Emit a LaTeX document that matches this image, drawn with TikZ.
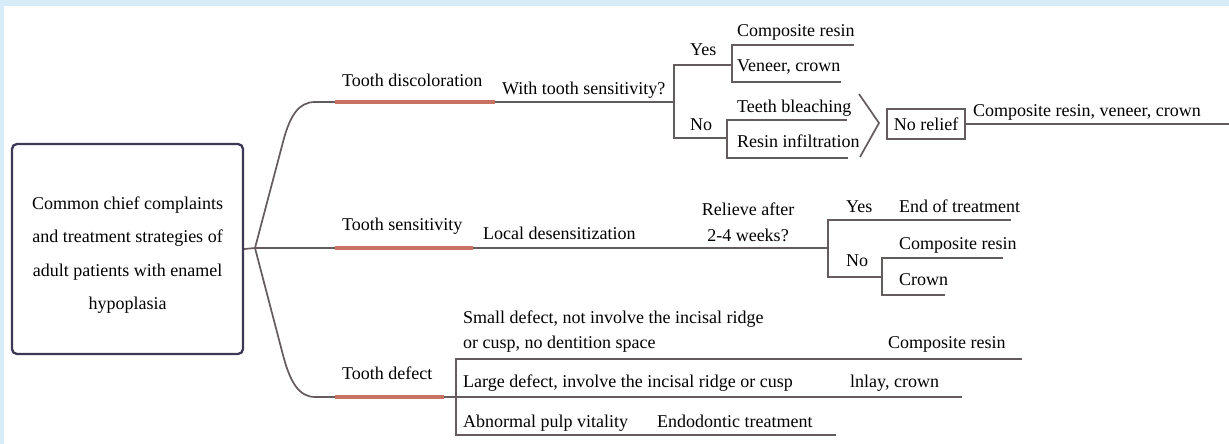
\documentclass[tikz,border=0pt]{standalone}
\usepackage{fontspec}
\setmainfont{Liberation Serif}
\definecolor{bgblue}{RGB}{214,236,249}
\definecolor{linegray}{RGB}{100,92,92}
\definecolor{barred}{RGB}{200,114,100}
\definecolor{boxnavy}{RGB}{60,56,85}
\tikzset{
  branch/.style={draw=linegray, line width=1.7pt},
  redbar/.style={draw=barred, line width=4.5pt},
  lbl/.style={anchor=base west, inner sep=0pt, font=\fontsize{18}{20}\selectfont},
}

\begin{document}
\begin{tikzpicture}[x=1pt, y=-1pt]
\useasboundingbox (0,0) rectangle (1229,444);
\fill[bgblue] (0,0) rectangle (1229,444); \fill[white] (4,6) rectangle (1229,444);
% root
\node[draw=boxnavy, line width=2.3pt, rounded corners=5pt, minimum width=231pt, minimum height=210pt] (root) at (127.5,249) {};
\node[align=center, inner sep=0pt, font=\fontsize{18}{33.3}\selectfont] (roottxt) at (127.5,255) {Common chief complaints\\and treatment strategies of\\adult patients with enamel\\hypoplasia};
\coordinate (J) at (255,248);
\coordinate (d1) at (335,102); \coordinate (d2) at (495,102); \coordinate (d3) at (674,102);
\coordinate (s1) at (335,248); \coordinate (s2) at (473,248); \coordinate (s3) at (828,248);
\coordinate (f1) at (335,397); \coordinate (f2) at (444,397); \coordinate (f3) at (456,397);
\draw[branch] (root.east) -- (J) -- (s1);
\draw[branch] (J) -- (283,142) .. controls (290,115) and (299,102) .. (315,102) -- (d1);
\draw[branch] (J) -- (283,355) .. controls (290,382) and (299,397) .. (315,397) -- (f1);
% tooth discoloration
\coordinate (dy1) at (732,65); \coordinate (dn1) at (727,138);
\coordinate (dyA) at (854,45); \coordinate (dyB) at (841,82); \coordinate (dnA) at (847,120); \coordinate (dnB) at (848,158);
\draw[branch] (d2) -- (d3); \draw[branch] (dy1) -| (d3) |- (dn1);
\draw[branch] (dyA) -| (dy1) |- (dyB); \draw[branch] (dnA) -| (dn1) |- (dnB);
\draw[branch] (859,94) -- (879,123) -- (860,157);
\node[draw=linegray, line width=1.5pt, minimum width=78pt, minimum height=30pt, inner sep=0pt, font=\fontsize{18}{20}\selectfont] (norelief) at (926,124) {No relief};
\coordinate (nrEnd) at (1229,124); \draw[branch] (norelief.east) -- (nrEnd);
\draw[redbar] (d1) -- (d2);
\node[lbl] (disc) at (342,86) {Tooth discoloration};
\node[lbl] (withsens) at (502,95) {With tooth sensitivity?};
\node[lbl] (dyes) at (690,56) {Yes}; \node[lbl] (dno) at (690,130) {No};
\node[lbl] (dcomp) at (737,37) {Composite resin}; \node[lbl] (dven) at (737,71) {Veneer, crown};
\node[lbl] (dbleach) at (737,112) {Teeth bleaching}; \node[lbl] (dinfil) at (737,147) {Resin infiltration};
\node[lbl] (dall) at (973,117) {Composite resin, veneer, crown};
% tooth sensitivity
\coordinate (sy) at (1011,220); \coordinate (sn) at (882,277); \coordinate (snA) at (1003,258); \coordinate (snB) at (945,295);
\draw[branch] (s2) -- (s3); \draw[branch] (sy) -| (s3) |- (sn); \draw[branch] (snA) -| (sn) |- (snB);
\draw[redbar] (s1) -- (s2);
\node[lbl] (sens) at (342,230) {Tooth sensitivity};
\node[lbl] (desens) at (483,239) {Local desensitization};
\node[lbl, anchor=base] (rel1) at (748,215) {Relieve after}; \node[lbl, anchor=base] (rel2) at (748,241) {2-4 weeks?};
\node[lbl] (syes) at (846,212) {Yes}; \node[lbl] (send) at (899,212) {End of treatment};
\node[lbl] (sno) at (846,266) {No};
\node[lbl] (scomp) at (899,249) {Composite resin}; \node[lbl] (scrown) at (899,285) {Crown};
% tooth defect
\coordinate (fA) at (1022,359); \coordinate (fB) at (962,397); \coordinate (fC) at (836,435);
\draw[branch] (fA) -| (f3) |- (fC); \draw[branch] (f2) -- (fB);
\draw[redbar] (f1) -- (f2);
\node[lbl] (defect) at (342,379) {Tooth defect};
\node[lbl] (small1) at (463,323) {Small defect, not involve the incisal ridge};
\node[lbl] (small2) at (463,348) {or cusp, no dentition space};
\node[lbl] (fcomp) at (888,348) {Composite resin};
\node[lbl] (large) at (463,387) {Large defect, involve the incisal ridge or cusp};
\node[lbl] (finlay) at (850,387) {lnlay, crown};
\node[lbl] (pulp) at (463,427) {Abnormal pulp vitality};
\node[lbl] (endo) at (657,427) {Endodontic treatment};
\end{tikzpicture}
\end{document}
